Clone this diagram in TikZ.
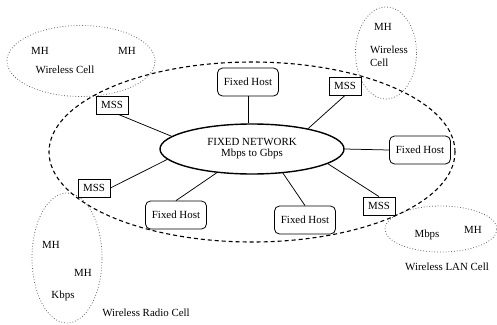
\documentclass[tikz,border=0pt]{standalone}
\usepackage{fontspec}
\setmainfont{Liberation Serif}
\usetikzlibrary{shapes.geometric}
\begin{document}
\begin{tikzpicture}[x=1pt,y=-1pt,
  every node/.style={font=\fontsize{10.9}{12}\selectfont, inner sep=0pt},
  host/.style={draw, rounded corners=5pt, minimum width=61pt, minimum height=28pt, line width=0.8pt, fill=white},
  mss/.style={draw, minimum width=32pt, minimum height=18pt, line width=0.8pt, fill=white},
  link/.style={line width=0.75pt},
  cell/.style={draw=black!60, dotted, line width=0.8pt},
  lbl/.style={}
]
\useasboundingbox (0,0) rectangle (497,324);
% wireless cells (dotted)
\node[cell, ellipse, minimum width=148pt, minimum height=71pt] (c1) at (81,61) {};
\node[cell, ellipse, minimum width=61pt, minimum height=92pt] (c2) at (386,53) {};
\node[cell, ellipse, minimum width=70pt, minimum height=130pt] (c3) at (67,258) {};
\node[cell, ellipse, minimum width=112pt, minimum height=46pt] (c4) at (441,229) {};
% big dashed ellipse
\node[draw, ellipse, dash pattern=on 4pt off 3pt, line width=1.1pt, minimum width=406pt, minimum height=180pt] (big) at (252,152) {};
% central network
\node[draw, ellipse, line width=1.4pt, minimum width=184pt, minimum height=50pt, fill=white, align=center] (net) at (252,149) {FIXED NETWORK\\[-1pt]Mbps to Gbps};
% hosts
\node[host] (fh1) at (248,82) {Fixed Host};
\node[host] (fh2) at (420,150) {Fixed Host};
\node[host] (fh3) at (176,215) {Fixed Host};
\node[host] (fh4) at (305,220) {Fixed Host};
% MSS
\node[mss] (m1) at (112,105) {MSS};
\node[mss] (m2) at (345,86) {MSS};
\node[mss] (m3) at (94,188) {MSS};
\node[mss] (m4) at (379,206) {MSS};
% links
\draw[link] (m1.-56) -- (net.171);
\draw[link] (fh1.south) -- (fh1.south |- net.north);
\draw[link] (m2.south) -- (net.20);
\draw[link] (net.east) -- (fh2.west);
\draw[link] (net.-11) -- (m4.north);
\draw[link] (net.-38) -- (fh4.north);
\draw[link] (net.214) -- (fh3.north);
\draw[link] (net.187) -- (m3.east);
% labels
\node (t1) at (40,51) {MH};
\node (t2) at (127,51) {MH};
\node (t3) at (65,70) {Wireless Cell};
\node (t4) at (383,27) {MH};
\node[anchor=west] (t5) at (370,50) {Wireless};
\node[anchor=west] (t6) at (370,63) {Cell};
\node (t7) at (51,245) {MH};
\node (t8) at (83,273) {MH};
\node (t9) at (63,296) {Kbps};
\node (t10) at (146,313) {Wireless Radio Cell};
\node (t11) at (427,235) {Mbps};
\node (t12) at (473,230) {MH};
\node (t13) at (447,267) {Wireless LAN Cell};
\end{tikzpicture}
\end{document}
